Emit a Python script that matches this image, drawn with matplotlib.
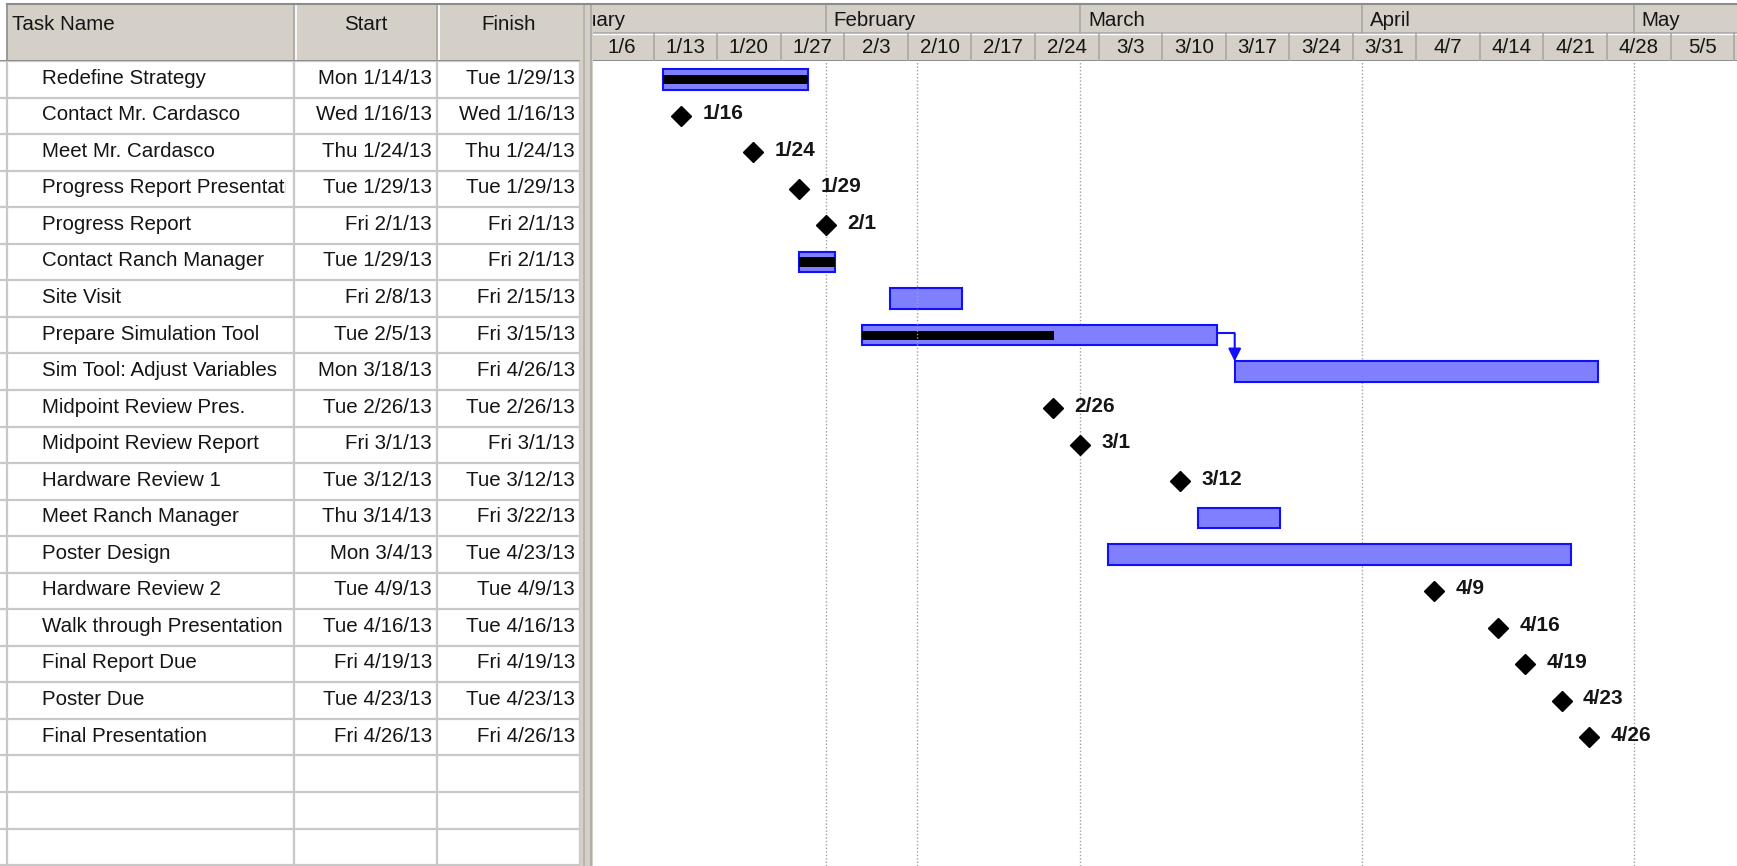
import matplotlib
matplotlib.use("Agg")
import matplotlib.pyplot as plt
import matplotlib.dates as mdates
from matplotlib.patches import Rectangle
from matplotlib.transforms import Bbox, TransformedBbox
import datetime as dt

plt.rcParams['font.family'] = ['Liberation Sans', 'DejaVu Sans']

# ---------------- data ----------------
task_names = [
    "Redefine Strategy", "Contact Mr. Cardasco", "Meet Mr. Cardasco",
    "Progress Report Presentation", "Progress Report", "Contact Ranch Manager",
    "Site Visit", "Prepare Simulation Tool", "Sim Tool: Adjust Variables",
    "Midpoint Review Pres.", "Midpoint Review Report", "Hardware Review 1",
    "Meet Ranch Manager", "Poster Design", "Hardware Review 2",
    "Walk through Presentation", "Final Report Due", "Poster Due",
    "Final Presentation",
]
start_dates = [
    "2013-01-14", "2013-01-16", "2013-01-24", "2013-01-29", "2013-02-01",
    "2013-01-29", "2013-02-08", "2013-02-05", "2013-03-18", "2013-02-26",
    "2013-03-01", "2013-03-12", "2013-03-14", "2013-03-04", "2013-04-09",
    "2013-04-16", "2013-04-19", "2013-04-23", "2013-04-26",
]
finish_dates = [
    "2013-01-29", "2013-01-16", "2013-01-24", "2013-01-29", "2013-02-01",
    "2013-02-01", "2013-02-15", "2013-03-15", "2013-04-26", "2013-02-26",
    "2013-03-01", "2013-03-12", "2013-03-22", "2013-04-23", "2013-04-09",
    "2013-04-16", "2013-04-19", "2013-04-23", "2013-04-26",
]
percent_complete = [100, 0, 0, 0, 0, 100, 0, 54, 0, 0, 0, 0, 0, 0, 0, 0, 0, 0, 0]
links = [(7, 8)]                       # predecessor -> successor (finish-to-start)
month_gridlines = ["2013-02-01", "2013-03-01", "2013-04-01", "2013-05-01"]
current_date = "2013-02-11"
column_headers = ["Task Name", "Start", "Finish"]
view_start = "2013-01-06 07:50"
view_end = "2013-05-12 07:40"
n_blank_rows = 3

# ---------------- helpers ----------------
def d(s):
    return dt.datetime.fromisoformat(s)

def long_label(s):
    x = d(s)
    return f"{x:%a} {x.month}/{x.day}/{x:%y}"

def short_label(x):
    return f"{x.month}/{x.day}"

W, H = 1737, 866
fig = plt.figure(figsize=(W / 100, H / 100), dpi=100)
fig.patch.set_facecolor("white")

def frac(x0, y0, x1, y1):
    return [x0 / W, 1 - y1 / H, (x1 - x0) / W, (y1 - y0) / H]

HDR_TOP, HDR_BOT = 4, 61
TAB_RIGHT, CHART_LEFT = 580, 593
GREY = "#d4d0c8"
DARK = "#8c8c8c"
LINE = "#c8c8c8"
FS = 14.8
TXT = "#151515"

n_rows = len(task_names)
y_bottom = (H - (HDR_BOT + 18.3)) / 36.55
y_lim = (y_bottom, -0.5)

# ---------------- table body ----------------
ax_tab = fig.add_axes(frac(0, HDR_BOT, TAB_RIGHT, H))
ax_tab.set_xlim(0, TAB_RIGHT)
ax_tab.set_ylim(*y_lim)
ax_tab.axis("off")
col_edges = [7, 294, 437, TAB_RIGHT]
for xe in col_edges:
    ax_tab.axvline(xe, color=LINE, lw=1.6)
for r in range(-1, n_rows + n_blank_rows):
    ax_tab.axhline(r + 0.5, color=LINE, lw=1.6)

name_clip = TransformedBbox(Bbox([[col_edges[0], -1], [col_edges[1] - 8, 30]]), ax_tab.transData)
for i, name in enumerate(task_names):
    t = ax_tab.text(42, i - 0.03, name, ha="left", va="center", fontsize=FS, color=TXT)
    t.set_clip_box(name_clip)
    t.set_clip_on(True)
    ax_tab.text(col_edges[2] - 5, i - 0.03, long_label(start_dates[i]), ha="right",
                va="center", fontsize=FS, color=TXT)
    ax_tab.text(col_edges[3] - 5, i - 0.03, long_label(finish_dates[i]), ha="right",
                va="center", fontsize=FS, color=TXT)

# ---------------- table header ----------------
ax_th = fig.add_axes(frac(0, HDR_TOP, TAB_RIGHT, HDR_BOT))
ax_th.set_xlim(0, TAB_RIGHT)
ax_th.set_ylim(HDR_BOT - HDR_TOP, 0)
ax_th.axis("off")
ax_th.add_patch(Rectangle((col_edges[0], 0), TAB_RIGHT - col_edges[0], HDR_BOT - HDR_TOP,
                          facecolor=GREY, edgecolor="none"))
for xe in col_edges[1:-1]:
    ax_th.plot([xe, xe], [1, 56], color="#a8a8a8", lw=1.2)
    ax_th.plot([xe + 2, xe + 2], [1, 56], color="white", lw=1.2)
ax_th.plot([col_edges[0], col_edges[0]], [0, 57], color=DARK, lw=1.2)
ax_th.axhline(56.5, color=DARK, lw=1.4)
hdr_x = [12, (col_edges[1] + col_edges[2]) / 2, (col_edges[2] + col_edges[3]) / 2]
hdr_ha = ["left", "center", "center"]
for lab, x, ha in zip(column_headers, hdr_x, hdr_ha):
    ax_th.text(x, 20, lab, ha=ha, va="center", fontsize=FS, color=TXT)

# ---------------- splitter ----------------
ax_sp = fig.add_axes(frac(TAB_RIGHT, HDR_TOP, CHART_LEFT, H))
ax_sp.set_xlim(TAB_RIGHT, CHART_LEFT)
ax_sp.set_ylim(1, 0)
ax_sp.axis("off")
ax_sp.add_patch(Rectangle((TAB_RIGHT, 0), CHART_LEFT - TAB_RIGHT, 1, facecolor=GREY, edgecolor="none"))
ax_sp.axvline(TAB_RIGHT + 4, color="#b4b0a8", lw=1.2)
ax_sp.axvline(CHART_LEFT - 2, color="#a8a8a8", lw=1.2)

# ---------------- gantt chart ----------------
ax = fig.add_axes(frac(CHART_LEFT, HDR_BOT, W, H))
x_lo, x_hi = mdates.date2num(d(view_start)), mdates.date2num(d(view_end))
ax.set_xlim(x_lo, x_hi)
ax.set_ylim(*y_lim)
ax.axis("off")

for g in month_gridlines:
    ax.axvline(mdates.date2num(d(g)), color="#a0a0a0", lw=1.0, ls=(0, (1, 1.5)), zorder=1)
ax.axvline(mdates.date2num(d(current_date)), color="#a0a0a0", lw=1.0, ls=(0, (1, 1.5)), zorder=4)

BAR_H = 0.56
PROG_H = 0.25
for i in range(n_rows):
    s = mdates.date2num(d(start_dates[i]))
    f = mdates.date2num(d(finish_dates[i])) + 1
    if start_dates[i] == finish_dates[i]:
        ax.plot(s, i, marker="D", ms=10, color="black", zorder=6)
        ax.annotate(short_label(d(start_dates[i])), xy=(s, i), xytext=(15.5, 1.5),
                    textcoords="offset points", ha="left", va="center",
                    fontsize=15, fontweight="bold", color=TXT, zorder=6)
    else:
        ax.add_patch(Rectangle((s, i - BAR_H / 2), f - s, BAR_H, facecolor="#8080ff",
                               edgecolor="#1010ff", lw=1.5, zorder=3))
        if percent_complete[i] > 0:
            pe = s + (f - s) * percent_complete[i] / 100
            ax.add_patch(Rectangle((s, i - PROG_H / 2), pe - s, PROG_H,
                                   facecolor="black", edgecolor="none", zorder=3.5))

for p, q in links:
    pf = mdates.date2num(d(finish_dates[p])) + 1
    qs = mdates.date2num(d(start_dates[q]))
    ax.plot([pf, qs], [p - 0.05, p - 0.05], color="#1010ff", lw=1.5, zorder=5,
            solid_capstyle="butt")
    ax.annotate("", xy=(qs, q - BAR_H / 2), xytext=(qs, p - 0.05),
                arrowprops=dict(arrowstyle="-|>", color="#1010ff", lw=1.5,
                                mutation_scale=19, shrinkA=0, shrinkB=0), zorder=5)

# ---------------- timescale header ----------------
ax_h = fig.add_axes(frac(CHART_LEFT, HDR_TOP, W, HDR_BOT))
ax_h.set_xlim(x_lo, x_hi)
ax_h.set_ylim(HDR_BOT - HDR_TOP, 0)
ax_h.set_facecolor(GREY)
for sp in ax_h.spines.values():
    sp.set_visible(False)
ax_h.set_xticks([])
ax_h.set_yticks([])
TIER = 29
ax_h.axhline(TIER, color="#a8a8a8", lw=1.2)
ax_h.axhline(TIER + 1.3, color="white", lw=1.0)
ax_h.axhline(56.5, color=DARK, lw=1.4)

month_starts = [dt.datetime(2013, m, 1) for m in range(1, 6)]
for m in month_starts:
    x = mdates.date2num(m)
    if x > x_lo:
        ax_h.plot([x, x], [0, TIER], color="#a8a8a8", lw=1.2)
    ax_h.annotate(f"{m:%B}", xy=(x, 17), xytext=(5.5, 0), textcoords="offset points",
                  ha="left", va="center", fontsize=FS, color=TXT,
                  annotation_clip=False, clip_on=True)

week = dt.datetime(2013, 1, 6)
while mdates.date2num(week) < x_hi:
    x = mdates.date2num(week)
    if x > x_lo:
        ax_h.plot([x, x], [TIER, 57], color="#a8a8a8", lw=1.2)
    if x + 3.5 < x_hi:
        ax_h.text(x + 3.5, 43.5, short_label(week), ha="center", va="center",
                  fontsize=FS, color=TXT, clip_on=True)
    week += dt.timedelta(days=7)

# top frame line
fig.add_artist(plt.Line2D([7 / W, 1], [1 - HDR_TOP / H, 1 - HDR_TOP / H],
                          transform=fig.transFigure, color=DARK, lw=1.5))

fig.savefig("out.png", dpi=100)
